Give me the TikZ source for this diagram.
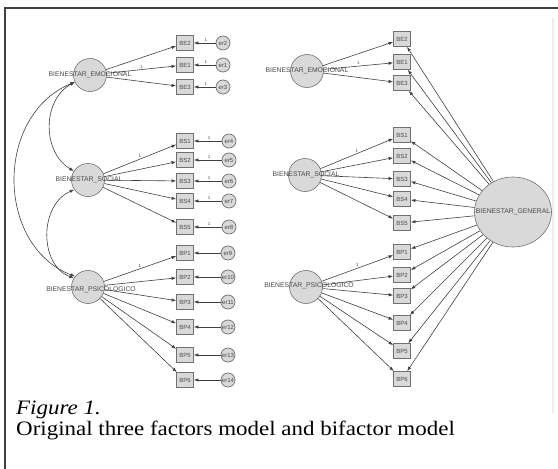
\documentclass[tikz,border=0pt]{standalone}
\usepackage{fontspec}
\usepackage{graphicx}
\setmainfont{Liberation Serif}
\newfontfamily\labfont{Liberation Sans}
\usetikzlibrary{arrows.meta,shapes.geometric}
\definecolor{shapefill}{HTML}{D9D9D9}
\definecolor{shapeline}{HTML}{707070}
\definecolor{labtext}{HTML}{4A4A4A}
\definecolor{lineclr}{HTML}{404040}
\tikzset{
  x=1pt,y=1pt,
  latent/.style={circle,draw=shapeline,fill=shapefill,minimum size=33pt,inner sep=0pt,line width=0.6pt},
  general/.style={ellipse,draw=shapeline,fill=shapefill,minimum width=77pt,minimum height=70pt,inner sep=0pt,line width=0.6pt},
  obsbox/.style={rectangle,draw=shapeline,fill=shapefill,minimum width=17pt,minimum height=15pt,inner sep=0pt,line width=0.8pt,
     font=\labfont\fontsize{6}{6}\selectfont,text=labtext},
  errc/.style={circle,draw=shapeline,fill=shapefill,minimum size=14pt,inner sep=0pt,line width=0.7pt,
     font=\labfont\fontsize{6}{6}\selectfont,text=labtext},
  latlab/.style={font=\labfont\fontsize{6.8}{6.8}\selectfont,text=labtext,inner sep=0pt},
  one/.style={font=\labfont\fontsize{4.5}{4.5}\selectfont,text=labtext,inner sep=1pt},
  arr/.style={-{Latex[length=4.5pt,width=3.4pt]},draw=lineclr,line width=0.6pt},
  covar/.style={{Latex[length=4.5pt,width=3.4pt]}-{Latex[length=4.5pt,width=3.4pt]},draw=lineclr,line width=0.6pt},
}
\begin{document}
\begin{tikzpicture}
\useasboundingbox (0,0) rectangle (558,-469);
% frame
\draw[line width=1.6pt,draw=black!75] (5,-469) -- (5,-8) -- (558,-8);
\draw[line width=1.5pt,draw=black!7] (553,-18) -- (553,-413);

% ---------------- left model ----------------
\node[latent] (emoL) at (90,-75) {};
\node[latent] (socL) at (88,-180) {};
\node[latent] (psiL) at (88,-287) {};

\foreach \n/\y in {BE2/43,BE1/65,BE3/87,BS1/141,BS2/160,BS3/181,BS4/201,BS5/227,BP1/253,BP2/277,BP3/302,BP4/327,BP5/355,BP6/380}
  \node[obsbox] (L\n) at (185,-\y) {\n};

\foreach \n/\b/\y in {er2/BE2/43,er1/BE1/65,er3/BE3/87}
  {\node[errc] (\n) at (223,-\y) {\n};
   \draw[arr] (\n) -- node[one,above,pos=0.45] {1} (L\b);}
\foreach \n/\b/\y in {er4/BS1/141,er5/BS2/160,er6/BS3/181,er7/BS4/201,er8/BS5/227}
  {\node[errc] (\n) at (229,-\y) {\n};
   \draw[arr] (\n) -- node[one,above,pos=0.45] {1} (L\b);}
\foreach \n/\b/\y in {er9/BP1/253,er10/BP2/277,er11/BP3/302,er12/BP4/327,er13/BP5/355,er14/BP6/380}
  {\node[errc] (\n) at (228,-\y) {\n};
   \draw[arr] (\n) -- (L\b);}

\node[latlab] at (emoL) {BIENESTAR\_EMOCIONAL};
\node[latlab] at (89,-180) {BIENESTAR\_SOCIAL};
\node[latlab] at (91,-290) {BIENESTAR\_PSICOLOGICO};

\draw[arr] (emoL) -- (LBE2);
\draw[arr] (emoL) -- node[one,above,pos=0.5] {1} (LBE1);
\draw[arr] (emoL) -- (LBE3);
\draw[arr] (socL) -- node[one,above,pos=0.5] {1} (LBS1);
\foreach \b in {BS2,BS3,BS4,BS5} \draw[arr] (socL) -- (L\b);
\draw[arr] (psiL) -- node[one,above,pos=0.5] {1} (LBP1);
\foreach \b in {BP2,BP3,BP4,BP5,BP6} \draw[arr] (psiL) -- (L\b);

% covariances
\draw[covar] (emoL.205) .. controls (42,-100) and (42,-152) .. (socL.148);
\draw[covar] (emoL.205) .. controls (-5,-115) and (-5,-245) .. (psiL.141);
\draw[covar] (socL.215) .. controls (39,-205) and (39,-265) .. (psiL.148);

% ---------------- right model ----------------
\node[latent] (emoR) at (307,-71) {};
\node[latent] (socR) at (305,-175) {};
\node[latent] (psiR) at (306,-287) {};
\node[general] (gen) at (513,-212) {};

\foreach \n/\y in {BE2/39,BE1/62,BE3/83,BS1/135,BS2/156,BS3/179,BS4/199,BS5/223,BP1/252,BP2/275,BP3/296,BP4/323,BP5/351,BP6/379}
  {\node[obsbox] (R\n) at (402,-\y) {\n};
   \draw[arr] (gen) -- (R\n);}

\node[latlab] at (307,-71) {BIENESTAR\_EMOCIONAL};
\node[latlab] at (306,-175) {BIENESTAR\_SOCIAL};
\node[latlab] at (309,-286) {BIENESTAR\_PSICOLOGICO};
\node[latlab] at (gen) {BIENESTAR\_GENERAL};

\draw[arr] (emoR) -- (RBE2);
\draw[arr] (emoR) -- node[one,above,pos=0.5] {1} (RBE1);
\draw[arr] (emoR) -- (RBE3);
\draw[arr] (socR) -- node[one,above,pos=0.5] {1} (RBS1);
\foreach \b in {BS2,BS3,BS4,BS5} \draw[arr] (socR) -- (R\b);
\draw[arr] (psiR) -- node[one,above,pos=0.5] {1} (RBP1);
\foreach \b in {BP2,BP3,BP4,BP5,BP6} \draw[arr] (psiR) -- (R\b);

% caption
\node[anchor=base west,inner sep=0pt] (figlab) at (16,-414)
  {\scalebox{1.12}[1]{\fontsize{20.5}{20.5}\selectfont\itshape Figure 1.}};
\node[anchor=base west,inner sep=0pt] (figcap) at (16,-435)
  {\scalebox{1.12}[1]{\fontsize{20.5}{20.5}\selectfont Original three factors model and bifactor model}};
\end{tikzpicture}
\end{document}
